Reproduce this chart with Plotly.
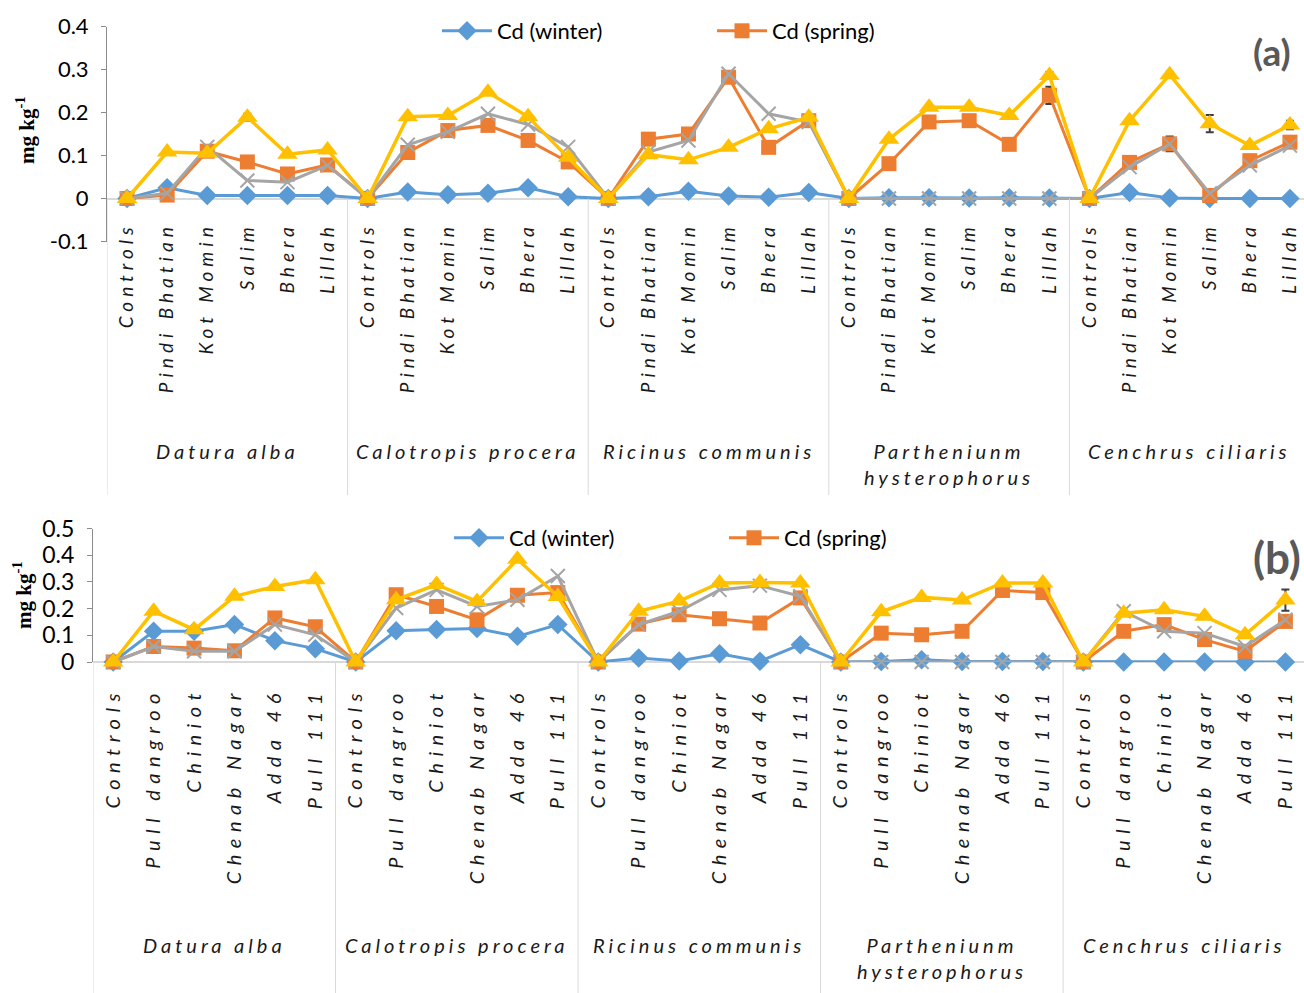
import plotly.graph_objects as go

W, H = 1304, 993

# ---- categories ----
sites_a = ["Controls", "Pindi Bhatian", "Kot Momin", "Salim", "Bhera", "Lillah"]
sites_b = ["Controls", "Pull dangroo", "Chiniot", "Chenab Nagar", "Adda 46", "Pull 111"]
species = ["Datura alba", "Calotropis procera", "Ricinus communis",
           "Partheniunm<br>hysterophorus", "Cenchrus ciliaris"]

# ---- panel (a) values, mg kg-1 ----
a_winter = [0, 0.025, 0.007, 0.007, 0.007, 0.007,
            0, 0.015, 0.009, 0.012, 0.025, 0.004,
            0, 0.004, 0.017, 0.006, 0.003, 0.014,
            0, 0.002, 0.002, 0.001, 0.002, 0.001,
            0, 0.014, 0.001, 0, 0, 0]
a_spring = [0, 0.008, 0.110, 0.085, 0.057, 0.078,
            0, 0.107, 0.158, 0.170, 0.135, 0.085,
            0, 0.138, 0.150, 0.282, 0.119, 0.181,
            0, 0.081, 0.178, 0.181, 0.126, 0.240,
            0, 0.084, 0.127, 0.007, 0.088, 0.131]
a_series3 = [0, 0.012, 0.120, 0.042, 0.038, 0.077,
             0, 0.125, 0.155, 0.197, 0.172, 0.120,
             0, 0.108, 0.135, 0.290, 0.197, 0.178,
             0, 0, 0, 0, 0, 0,
             0, 0.073, 0.127, 0.012, 0.077, 0.123]
a_series4 = [0, 0.108, 0.105, 0.189, 0.103, 0.113,
             0, 0.190, 0.193, 0.247, 0.190, 0.096,
             0, 0.102, 0.090, 0.119, 0.162, 0.189,
             0, 0.138, 0.212, 0.212, 0.193, 0.286,
             0, 0.181, 0.288, 0.174, 0.123, 0.171]
a_spring_err = [0, 0, 0.004, 0, 0, 0,
                0, 0, 0, 0, 0, 0,
                0, 0, 0, 0.004, 0, 0,
                0, 0, 0, 0, 0, 0.020,
                0, 0, 0.017, 0, 0, 0.005]
a_series4_err = [0, 0.003, 0.003, 0.008, 0.005, 0.004,
                 0, 0.005, 0.004, 0.005, 0.005, 0.003,
                 0, 0, 0, 0, 0, 0.003,
                 0, 0.004, 0.005, 0.005, 0.004, 0.008,
                 0, 0.004, 0.005, 0.020, 0.004, 0.010]

# ---- panel (b) values, mg kg-1 ----
b_winter = [0, 0.115, 0.115, 0.140, 0.080, 0.050,
            0, 0.117, 0.122, 0.125, 0.096, 0.140,
            0, 0.015, 0.004, 0.031, 0.003, 0.065,
            0, 0.002, 0.008, 0.002, 0.002, 0.002,
            0, 0, 0, 0, 0, 0]
b_spring = [0, 0.058, 0.052, 0.042, 0.165, 0.132,
            0, 0.252, 0.208, 0.158, 0.250, 0.260,
            0, 0.142, 0.177, 0.162, 0.146, 0.240,
            0, 0.108, 0.102, 0.115, 0.268, 0.260,
            0, 0.115, 0.140, 0.084, 0.040, 0.152]
b_series3 = [0, 0.058, 0.040, 0.040, 0.140, 0.102,
             0, 0.202, 0.270, 0.208, 0.233, 0.322,
             0, 0.140, 0.190, 0.270, 0.286, 0.246,
             0, 0, 0, 0, 0, 0,
             0, 0.190, 0.115, 0.108, 0.058, 0.158]
b_series4 = [0, 0.190, 0.121, 0.246, 0.283, 0.308,
             0, 0.233, 0.290, 0.227, 0.385, 0.245,
             0, 0.190, 0.228, 0.296, 0.298, 0.296,
             0, 0.188, 0.242, 0.232, 0.296, 0.296,
             0, 0.183, 0.196, 0.171, 0.102, 0.232]
b_series4_err = [0, 0.005, 0, 0.005, 0, 0,
                 0, 0, 0, 0, 0.008, 0,
                 0, 0.004, 0.004, 0, 0, 0,
                 0, 0, 0, 0, 0, 0,
                 0, 0, 0, 0, 0, 0.040]

ytick_a = [-0.1, 0, 0.1, 0.2, 0.3, 0.4]
ytext_a = ["-0.1", "0", "0.1", "0.2", "0.3", "0.4"]
ytick_b = [0, 0.1, 0.2, 0.3, 0.4, 0.5]
ytext_b = ["0", "0.1", "0.2", "0.3", "0.4", "0.5"]

# ---- styling ----
FONT = "Lato, Open Sans, sans-serif"
SERIF = "Liberation Serif, DejaVu Serif, serif"
BLUE, ORANGE, GRAY, GOLD = "#5B9BD5", "#ED7D31", "#A5A5A5", "#FFC000"
SEP = "#D9D9D9"
ERR = "#3F3F3F"


def px_x(p):
    return p / W


def px_y(p):
    return 1 - p / H


def spaced(s, sp=4):
    return f'<span style="letter-spacing:{sp}px">{s}</span>'


n = len(a_winter)
xs = list(range(n))
ng = len(species)
gsize = len(sites_a)

fig = go.Figure()


def add_panel(xref, yref, legend, winter, spring, s3, s4, spring_err, s4_err):
    common = dict(x=xs, xaxis=xref, yaxis=yref, mode="lines+markers",
                  cliponaxis=False, legend=legend)
    fig.add_trace(go.Scatter(y=winter, name="Cd (winter)",
                             line=dict(color=BLUE, width=3),
                             marker=dict(symbol="diamond", size=15, color=BLUE),
                             **common))
    fig.add_trace(go.Scatter(y=spring, name="Cd (spring)",
                             line=dict(color=ORANGE, width=3),
                             marker=dict(symbol="square", size=15, color=ORANGE),
                             error_y=dict(type="data", array=spring_err, color=ERR,
                                          thickness=2, width=4,
                                          visible=spring_err is not None),
                             **common))
    fig.add_trace(go.Scatter(y=s3, name="series 3", showlegend=False,
                             line=dict(color=GRAY, width=3),
                             marker=dict(symbol="x-thin", size=14,
                                         line=dict(color=GRAY, width=2)),
                             **common))
    fig.add_trace(go.Scatter(y=s4, name="series 4", showlegend=False,
                             line=dict(color=GOLD, width=3.5),
                             marker=dict(symbol="triangle-up", size=18, color=GOLD),
                             error_y=dict(type="data", array=s4_err, color=ERR,
                                          thickness=2, width=4),
                             **common))


add_panel("x", "y", "legend", a_winter, a_spring, a_series3, a_series4,
          a_spring_err, a_series4_err)
add_panel("x2", "y2", "legend2", b_winter, b_spring, b_series3, b_series4,
          None, b_series4_err)

# ---- axes ----
ya_dom = [px_y(241.5), px_y(26.5)]
yb_dom = [px_y(662), px_y(528.5)]
ya_rng = [-0.1, 0.4]
yb_rng = [0, 0.5]
zero_a = ya_dom[0] + (0 - ya_rng[0]) / (ya_rng[1] - ya_rng[0]) * (ya_dom[1] - ya_dom[0])

xcommon = dict(showline=False, showgrid=False, zeroline=False, automargin=False,
               tickmode="array", tickvals=xs, tickangle=-90, ticks="")
ycommon = dict(showgrid=False, automargin=False,
               zeroline=True, zerolinecolor=SEP, zerolinewidth=1.5,
               showline=True, linecolor="#8C8C8C", linewidth=1,
               ticks="outside", ticklen=5, tickcolor="#8C8C8C",
               ticklabelstandoff=8, tickmode="array")

fig.update_layout(
    xaxis=dict(domain=[px_x(107), 1], range=[-0.5, 29.35], anchor="free",
               position=zero_a, ticklabelstandoff=19,
               tickfont=dict(family=FONT, size=19, color="#1a1a1a", style="italic"),
               ticktext=[spaced(s, 5) for s in sites_a * ng], **xcommon),
    yaxis=dict(domain=ya_dom, range=ya_rng, anchor="x",
               tickvals=ytick_a, ticktext=ytext_a,
               tickfont=dict(family=FONT, size=22, color="#000000"), **ycommon),
    xaxis2=dict(domain=[px_x(93), 1], range=[-0.5, 29.46], anchor="y2",
                ticklabelstandoff=20,
                tickfont=dict(family=FONT, size=20, color="#1a1a1a", style="italic"),
                ticktext=[spaced(s, 6.5) for s in sites_b * ng], **xcommon),
    yaxis2=dict(domain=yb_dom, range=yb_rng, anchor="x2",
                tickvals=ytick_b, ticktext=ytext_b,
                tickfont=dict(family=FONT, size=23, color="#000000"), **ycommon),
)

# ---- group separators and species labels ----
shapes = []
annotations = []
for xref, ytop, ybot, ylab in (("x", zero_a, px_y(495), px_y(437)),
                                ("x2", yb_dom[0], 0, px_y(931))):
    for k in range(ng + 1):
        shapes.append(dict(type="line", xref=xref, yref="paper",
                           x0=k * gsize - 0.5, x1=k * gsize - 0.5,
                           y0=ybot, y1=ytop, line=dict(color=SEP, width=1)))
    for k, sp in enumerate(species):
        annotations.append(dict(
            xref=xref, yref="paper", x=k * gsize + (gsize - 1) / 2, y=ylab,
            xanchor="center", yanchor="top", showarrow=False,
            text="<br>".join(spaced(part, 4) for part in sp.split("<br>")),
            font=dict(family=FONT, size=20, color="#1a1a1a", style="italic")))

# y-axis titles
for yc, xc in ((130, 26), (595, 22)):
    annotations.append(dict(
        xref="paper", yref="paper", x=px_x(xc), y=px_y(yc),
        xanchor="center", yanchor="middle", textangle=-90, showarrow=False,
        text="mg kg<sup>-1</sup>",
        font=dict(family=SERIF, size=21, color="#000000", weight="bold")))

# panel letters
for txt, xc, yc, fs in (("(a)", 1272, 51, 37), ("(b)", 1277, 557, 44)):
    annotations.append(dict(
        xref="paper", yref="paper", x=px_x(xc), y=px_y(yc),
        xanchor="center", yanchor="middle", showarrow=False, text=txt,
        font=dict(family=FONT, size=fs, color="#595959", weight="bold")))

legend_common = dict(orientation="h", xanchor="left", yanchor="middle",
                     bgcolor="rgba(0,0,0,0)", entrywidth=210, itemwidth=50,
                     font=dict(family=FONT, size=22, color="#000000"))

fig.update_layout(
    width=W, height=H, margin=dict(l=0, r=0, t=0, b=0, autoexpand=False),
    paper_bgcolor="white", plot_bgcolor="white",
    shapes=shapes, annotations=annotations,
    legend=dict(x=px_x(437), y=px_y(31), **legend_common),
    legend2=dict(x=px_x(449), y=px_y(538), **legend_common),
)

fig.write_html("out.html")
